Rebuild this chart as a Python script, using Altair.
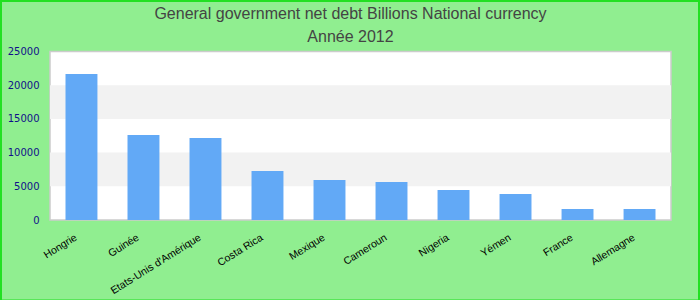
import altair as alt
import pandas as pd

countries = ["Hongrie", "Guinée", "Etats-Unis d'Amérique", "Costa Rica", "Mexique",
             "Cameroun", "Nigeria", "Yémen", "France", "Allemagne"]
values = [21650, 12600, 12150, 7270, 5930, 5640, 4450, 3860, 1630, 1630]
band_start = [5000, 15000]
band_end = [10000, 20000]
y_ticks = [0, 5000, 10000, 15000, 20000, 25000]
title_lines = ["General government net debt Billions National currency", "Année 2012"]

df = pd.DataFrame({"pays": countries, "valeur": values})
bands = pd.DataFrame({"y0": band_start, "y1": band_end})
frame = pd.DataFrame({"k": [0]})

W, H = 621, 168.5

yscale = alt.Scale(domain=[0, 25000], nice=False)
yaxis = alt.Axis(values=y_ticks, grid=False, ticks=False, domain=False, format="d",
                 labelFont="DejaVu Sans", labelFontSize=10, labelColor="#10108a",
                 labelPadding=11)

band_layer = alt.Chart(bands).mark_rect(color="#f2f2f2").encode(
    x=alt.value(0), x2=alt.value(W),
    y=alt.Y("y0:Q", scale=yscale, axis=yaxis, title=None),
    y2="y1:Q",
)

bars = alt.Chart(df).mark_bar(color="#62a9f6").encode(
    x=alt.X("pays:N", sort=countries, title=None,
            scale=alt.Scale(paddingInner=0.485, paddingOuter=0.25),
            axis=alt.Axis(labelAngle=-32, labelAlign="right", labelBaseline="top",
                          labelFont="Liberation Sans", labelFontSize=10.5, labelColor="#000000",
                          ticks=False, domain=False, labelPadding=12, labelOffset=-8)),
    y=alt.Y("valeur:Q", scale=yscale, title=None, axis=yaxis),
)

border = alt.Chart(frame).mark_rect(fill=None, stroke="#22e022", strokeWidth=2).encode(
    x=alt.value(-49), x2=alt.value(W + 28), y=alt.value(-50.5), y2=alt.value(H + 80.5)
)

chart = alt.layer(band_layer, bars, border).properties(
    width=W, height=H,
    padding={"left": 50, "top": 51.5, "right": 29, "bottom": 80},
    autosize=alt.AutoSizeParams(type="none"),
    background="#90ee90",
    title=alt.TitleParams(text=title_lines, font="Liberation Sans", fontSize=16,
                          fontWeight="normal", color="#444444", lineHeight=23,
                          anchor="middle", dx=-10, dy=52.5, offset=8),
).configure_view(fill="white", stroke="#cccccc", strokeWidth=1.5)

chart.save("out.html", embed_options={"renderer": "svg", "actions": False})
